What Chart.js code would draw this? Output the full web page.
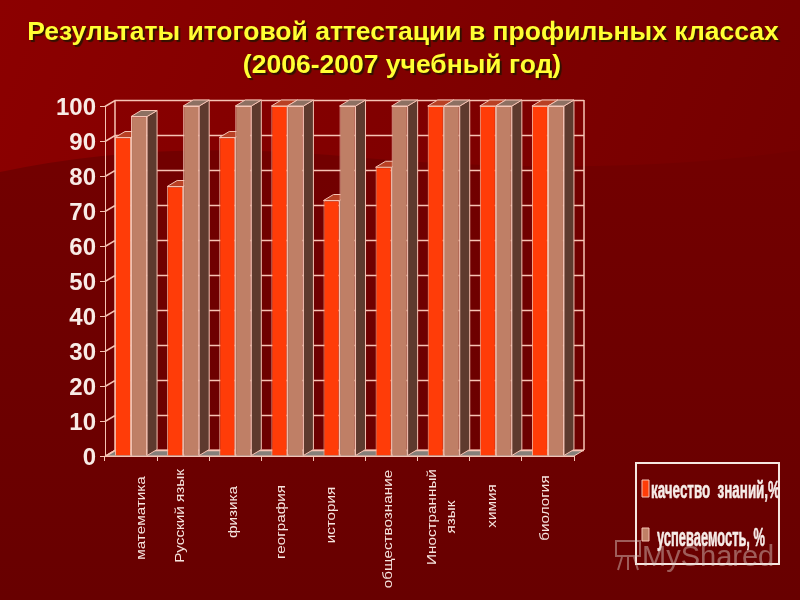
<!DOCTYPE html>
<html lang="ru">
<head>
<meta charset="UTF-8">
<title>Результаты итоговой аттестации</title>
<script src="https://cdn.jsdelivr.net/npm/chart.js@4"></script>
<style>
    html, body { margin: 0; padding: 0; background: #6b0000; }
    canvas { display: block; }
</style>
</head>
<body>
<canvas id="resultsChart" width="800" height="600"></canvas>
<script>
    const titleLines = ['Результаты итоговой аттестации в профильных классах', '(2006-2007 учебный год)'];
    const subjects = ['математика', 'Русский язык', 'физика', 'география', 'история',
        'обществознание', ['Иностранный', 'язык'], 'химия', 'биология'];
    const qualityLabel = 'качество  знаний,%';
    const passLabel = 'успеваемость, %';
    const quality = [91, 77, 91, 100, 73, 82.5, 100, 100, 100];
    const pass = [97, 100, 100, 100, 100, 100, 100, 100, 100];

    // hand placed subject labels, the original slide has them slightly off the ticks
    const nudgeX = [10, -3, -2, -6, -8, -3, -1.5, -4, -3];
    const labelMidY = [518, 516, 512, 522, 515, 529, 517, 506, 508];

    const LINE = '#f6c3b4';
    const DX = 10, DY = -6; // depth of the 3d box

    function poly(ctx, pts, fill, stroke) {
        ctx.beginPath();
        pts.forEach((p, i) => i ? ctx.lineTo(p[0], p[1]) : ctx.moveTo(p[0], p[1]));
        ctx.closePath();
        if (fill) { ctx.fillStyle = fill; ctx.fill(); }
        if (stroke) { ctx.strokeStyle = stroke; ctx.lineWidth = 1; ctx.stroke(); }
    }

    function fitText(ctx, text, x, y, width, font, color) {
        ctx.save();
        ctx.font = font;
        ctx.fillStyle = color;
        ctx.strokeStyle = color;
        ctx.lineWidth = 0.6;
        ctx.textAlign = 'left';
        ctx.textBaseline = 'alphabetic';
        ctx.translate(x, y);
        ctx.scale(width / ctx.measureText(text).width, 1);
        ctx.fillText(text, 0, 0);
        ctx.strokeText(text, 0, 0);
        ctx.restore();
    }

    const slide = {
        id: 'slide',
        beforeDraw(chart) {
            const ctx = chart.ctx;
            const bg = ctx.createLinearGradient(0, 0, 800, 300);
            bg.addColorStop(0, '#8c0000');
            bg.addColorStop(1, '#740000');
            ctx.fillStyle = bg;
            ctx.fillRect(0, 0, 800, 600);
            // darker swoosh across the lower part
            const low = ctx.createLinearGradient(0, 170, 0, 600);
            low.addColorStop(0, '#720000');
            low.addColorStop(1, '#680000');
            ctx.fillStyle = low;
            ctx.beginPath();
            ctx.moveTo(0, 172);
            ctx.quadraticCurveTo(150, 140, 330, 155);
            ctx.quadraticCurveTo(600, 180, 800, 150);
            ctx.lineTo(800, 600);
            ctx.lineTo(0, 600);
            ctx.closePath();
            ctx.fill();

            ctx.save();
            ctx.font = 'bold 26.5px "Liberation Sans"';
            ctx.textAlign = 'center';
            ctx.textBaseline = 'middle';
            ctx.shadowColor = '#301000';
            ctx.shadowOffsetX = 2;
            ctx.shadowOffsetY = 2;
            ctx.shadowBlur = 1;
            ctx.fillStyle = '#ffff33';
            ctx.fillText(titleLines[0], 403, 33);
            ctx.fillText(titleLines[1], 402, 66);
            ctx.restore();
        },
        beforeDatasetsDraw(chart) {
            const ctx = chart.ctx;
            const { left, right, top, bottom } = chart.chartArea;
            const y = chart.scales.y;

            // floor
            poly(ctx, [[left, bottom], [right, bottom], [right + DX, bottom + DY], [left + DX, bottom + DY]], '#85807a', LINE);

            // walls and grid
            ctx.strokeStyle = LINE;
            ctx.lineWidth = 1.5;
            ctx.beginPath();
            y.ticks.forEach(t => {
                const py = Math.round(y.getPixelForValue(t.value)) + 0.5;
                ctx.moveTo(left, py);
                ctx.lineTo(left + DX, py + DY);
                ctx.lineTo(right + DX, py + DY);
            });
            ctx.moveTo(left + DX, top + DY);
            ctx.lineTo(left + DX, bottom + DY);
            ctx.moveTo(right + DX, top + DY);
            ctx.lineTo(right + DX, bottom + DY);
            ctx.stroke();

            // bar depth: sides and tops, front faces are the library's bars
            chart.data.datasets.forEach((ds, di) => {
                chart.getDatasetMeta(di).data.forEach(bar => {
                    const p = bar.getProps(['x', 'y', 'base', 'width'], true);
                    const l = p.x - p.width / 2, r = p.x + p.width / 2;
                    poly(ctx, [[r, p.y], [r + DX, p.y + DY], [r + DX, p.base + DY], [r, p.base]], ds.sideColor, LINE);
                    poly(ctx, [[l, p.y], [l + DX, p.y + DY], [r + DX, p.y + DY], [r, p.y]], ds.topColor, LINE);
                });
            });
        },
        afterDraw(chart) {
            const ctx = chart.ctx;
            const x = chart.scales.x;

            // subject labels read bottom to top
            ctx.save();
            ctx.fillStyle = '#f6e4de';
            ctx.font = '13.5px "Liberation Sans"';
            ctx.textAlign = 'center';
            ctx.textBaseline = 'middle';
            subjects.forEach((s, i) => {
                const lines = Array.isArray(s) ? s : [s];
                lines.forEach((line, k) => {
                    ctx.save();
                    ctx.translate(x.getPixelForValue(i) + nudgeX[i] + (k - (lines.length - 1) / 2) * 19, labelMidY[i]);
                    ctx.rotate(-Math.PI / 2);
                    ctx.scale(1.13, 1);
                    ctx.fillText(line, 0, 0);
                    ctx.restore();
                });
            });
            ctx.restore();

            // legend box
            const sets = chart.data.datasets;
            ctx.strokeStyle = '#f6e6e0';
            ctx.lineWidth = 2;
            ctx.strokeRect(636, 463, 143, 101);
            poly(ctx, [[642, 480], [649, 480], [649, 497], [642, 497]], sets[0].backgroundColor, LINE);
            poly(ctx, [[642, 528], [649, 528], [649, 541], [642, 541]], sets[1].backgroundColor, LINE);
            fitText(ctx, sets[0].label, 651, 498, 129, 'bold 23px "Liberation Sans"', '#f6ece8');
            fitText(ctx, sets[1].label, 657, 546, 108, 'bold 25px "Liberation Sans"', '#f6ece8');

            // site stamp
            ctx.save();
            ctx.globalAlpha = 0.45;
            ctx.strokeStyle = '#e0cfc8';
            ctx.lineWidth = 2;
            ctx.strokeRect(616, 541, 24, 15);
            ctx.beginPath();
            ctx.moveTo(622, 557); ctx.lineTo(618, 570);
            ctx.moveTo(628, 557); ctx.lineTo(628, 570);
            ctx.moveTo(634, 557); ctx.lineTo(638, 570);
            ctx.stroke();
            ctx.fillStyle = '#e0cfc8';
            ctx.font = '29px "Liberation Sans"';
            ctx.textAlign = 'left';
            ctx.textBaseline = 'alphabetic';
            ctx.fillText('MyShared', 642, 566);
            ctx.restore();
        }
    };

    new Chart(document.getElementById('resultsChart'), {
        type: 'bar',
        data: {
            labels: subjects,
            datasets: [{
                label: qualityLabel,
                data: quality,
                backgroundColor: '#ff3c08',
                borderColor: '#f8b8a0',
                borderWidth: 1,
                sideColor: '#5e3a2e',
                topColor: '#b84024'
            }, {
                label: passLabel,
                data: pass,
                backgroundColor: '#bf7f66',
                borderColor: '#f6c8b8',
                borderWidth: 1,
                sideColor: '#5e3a2e',
                topColor: '#8d7062'
            }]
        },
        options: {
            responsive: false,
            animation: false,
            devicePixelRatio: 1,
            layout: { padding: { left: 0, top: 106, right: 226, bottom: 144 } },
            categoryPercentage: 0.615,
            barPercentage: 1,
            plugins: { legend: { display: false }, title: { display: false }, tooltip: { enabled: false } },
            scales: {
                x: {
                    grid: { drawOnChartArea: false, color: LINE, tickLength: 5 },
                    border: { color: LINE },
                    ticks: { display: false },
                    afterFit(scale) { scale.height = 0; }
                },
                y: {
                    min: 0,
                    max: 100,
                    grid: { drawOnChartArea: false, color: LINE, tickLength: 5 },
                    border: { color: LINE },
                    ticks: {
                        stepSize: 10,
                        padding: 4,
                        labelOffset: 2,
                        color: '#f8ebe6',
                        font: { family: '"Liberation Sans"', size: 24, weight: 'bold' }
                    },
                    afterFit(scale) { scale.width = 105; }
                }
            }
        },
        plugins: [slide]
    });
</script>
</body>
</html>
